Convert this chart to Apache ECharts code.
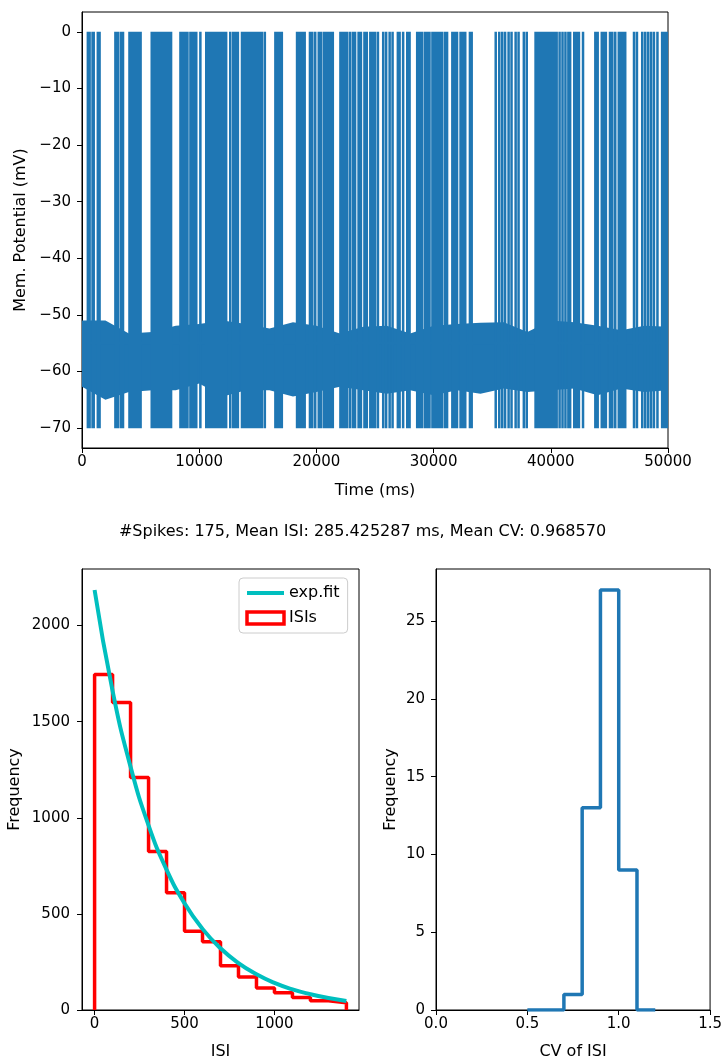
<!DOCTYPE html>
<html>
<head>
<meta charset="utf-8">
<script src="https://cdn.jsdelivr.net/npm/echarts@6/dist/echarts.min.js"></script>
<style>
  html, body { margin: 0; padding: 0; background: #fff; }
  #chart { width: 725px; height: 1061px; }
</style>
</head>
<body>
<div id="chart"></div>
<script>
// spike times (ms)
const spikeTimes = [
  500, 650, 900, 1000, 1350, 1500, 2850, 2950, 3100, 3350, 3500, 4050, 4200, 4400, 4550, 4700,
  4900, 5000, 5950, 6100, 6250, 6400, 6550, 6650, 6800, 7000, 7100, 7300, 7500, 7600,
  8400, 8550, 8700, 8850, 9000, 9250, 9400, 9550, 9750, 10100, 10600, 10750, 10900,
  11100, 11300, 11450, 11600, 11800, 12000, 12150, 12300, 12650, 12900, 13100, 13300,
  13650, 13800, 13950, 14100, 14300, 14450, 14600, 14800, 15000, 15150, 15350, 15600,
  16500, 16700, 16900, 17050, 18350, 18500, 18650, 18800, 19000, 19450, 19650, 19900,
  20200, 20400, 20650, 20800, 21000, 21200, 21400, 22050, 22200, 22400, 22600, 22850,
  23100, 23300, 23600, 23800, 24100, 24300, 24600, 24800, 25000, 25250,
  25700, 25950, 26250, 26500, 26950, 27100, 27400, 27750, 27950,
  28600, 28800, 29000, 29250, 29450, 29650, 29900, 30100, 30300, 30500, 30700, 30950, 31150,
  31600, 31800, 32000, 32300, 32500, 32700, 33100, 33250,
  35300, 35600, 35850, 36100, 36400, 36650, 37000, 37250, 37700, 37950,
  38700, 38900, 39100, 39300, 39500, 39700, 39900, 40100, 40300, 40500, 40750, 41000, 41250, 41500, 41650,
  42000, 42200, 42400, 42750, 43800, 44000, 44350, 44500, 44700, 45050, 45250, 45500, 45800,
  45950, 46150, 46350, 47100, 47350, 47800, 48050, 48300, 48550, 48800, 49100, 49500, 49700, 49900
];
const spikePeak = 0;
const spikeReset = -70;
const spikeThreshold = -55;

// subthreshold noise band (mV), upper and lower envelope every 2000 ms
const bandTimes = [0, 2000, 4000, 6000, 8000, 10000, 12000, 14000, 16000, 18000, 20000, 22000, 24000,
  26000, 28000, 30000, 32000, 34000, 36000, 38000, 40000, 42000, 44000, 46000, 48000, 50000];
const bandUpper = [-51.0, -51.0, -53.3, -53.0, -51.9, -51.6, -51.0, -51.6, -52.4, -51.3, -51.9, -53.3, -52.1,
  -51.9, -53.3, -51.9, -51.6, -51.4, -51.3, -53.0, -51.0, -51.3, -51.9, -52.7, -51.9, -52.1];
const bandLower = [-62.7, -65.0, -63.6, -63.3, -63.3, -62.1, -64.4, -63.3, -63.3, -64.4, -63.6, -62.7, -63.3,
  -63.9, -63.3, -64.2, -63.3, -63.9, -63.0, -63.6, -63.3, -63.0, -64.2, -63.0, -63.6, -63.3];

// ISI histogram
const isiEdges = [0, 100, 200, 300, 400, 500, 600, 700, 800, 900, 1000, 1100, 1200, 1300, 1400];
const isiCounts = [1745, 1600, 1210, 825, 610, 410, 355, 230, 172, 115, 90, 65, 48, 38];
const fitX = [0, 100, 200, 300, 400, 500, 600, 700, 800, 900, 1000, 1100, 1200, 1300, 1400];
const fitY = [2185, 1660, 1265, 960, 730, 555, 422, 321, 244, 186, 141, 107, 82, 62, 47];

// CV histogram
const cvEdges = [0.5, 0.6, 0.7, 0.8, 0.9, 1.0, 1.1, 1.2];
const cvCounts = [0, 0, 1, 13, 27, 9, 0];

// tick labels
const timeTicks = [0, 10000, 20000, 30000, 40000, 50000];
const voltTicks = [-70, -60, -50, -40, -30, -20, -10, 0];
const isiTicks = [0, 500, 1000];
const isiFreqTicks = [0, 500, 1000, 1500, 2000];
const cvTicks = [0, 0.5, 1.0, 1.5];
const cvFreqTicks = [0, 5, 10, 15, 20, 25];

const titleText = '#Spikes: 175, Mean ISI: 285.425287 ms, Mean CV: 0.968570';

const FONT = 'DejaVu Sans';
const INK = '#000';
const BLUE = '#1f77b4';

function stepPoints(edges, counts) {
  const pts = [[edges[0], 0]];
  counts.forEach((c, i) => {
    pts.push([edges[i], c], [edges[i + 1], c]);
  });
  pts.push([edges[edges.length - 1], 0]);
  return pts;
}

function spikePoints() {
  const pts = [];
  spikeTimes.forEach((t) => {
    pts.push([t, spikeThreshold], [t, spikePeak], [t, spikeReset], [t, spikeThreshold]);
  });
  return pts;
}

const minus = (v) => String(v).replace('-', '\u2212');

function axis(gridIndex, opts) {
  return {
    gridIndex,
    type: 'value',
    min: opts.min,
    max: opts.max,
    name: opts.name,
    nameLocation: 'middle',
    nameGap: opts.nameGap,
    nameTextStyle: { fontFamily: FONT, fontSize: 16, color: INK },
    axisLine: { show: true, onZero: false, lineStyle: { color: INK, width: 1 } },
    axisTick: { show: true, length: 5, customValues: opts.ticks, lineStyle: { color: INK, width: 1 } },
    axisLabel: {
      customValues: opts.ticks,
      margin: opts.margin,
      fontFamily: FONT,
      fontSize: 15,
      color: INK,
      formatter: opts.formatter || ((v) => minus(v))
    },
    splitLine: { show: false }
  };
}

const chart = echarts.init(document.getElementById('chart'));

chart.setOption({
  animation: false,
  backgroundColor: '#fff',
  title: {
    text: titleText,
    left: 'center',
    top: 519,
    textStyle: { fontFamily: FONT, fontSize: 16, fontWeight: 'normal', color: INK }
  },
  legend: {
    orient: 'vertical',
    left: 239,
    top: 578,
    padding: [7, 8, 7, 6],
    itemGap: 9,
    itemWidth: 37,
    itemHeight: 12,
    backgroundColor: '#fff',
    borderColor: '#cccccc',
    borderWidth: 1,
    borderRadius: 4,
    textStyle: { fontFamily: FONT, fontSize: 16, color: INK },
    data: [
      { name: 'exp.fit', itemStyle: { opacity: 0 }, lineStyle: { width: 4, color: '#00bfbf' } },
      { name: 'ISIs', icon: 'rect', itemStyle: { color: '#fff', borderColor: '#ff0000', borderWidth: 3.5 } }
    ]
  },
  grid: [
    { left: 82, top: 12, width: 586, height: 436, show: true, borderColor: INK, borderWidth: 1 },
    { left: 82, top: 569, width: 277, height: 443, show: true, borderColor: INK, borderWidth: 1 },
    { left: 436, top: 569, width: 277, height: 443, show: true, borderColor: INK, borderWidth: 1 }
  ],
  xAxis: [
    axis(0, { min: 0, max: 50000, ticks: timeTicks, name: 'Time (ms)', nameGap: 35, margin: 7 }),
    axis(1, { min: -70, max: 1470, ticks: isiTicks, name: 'ISI', nameGap: 34, margin: 7 }),
    axis(2, { min: 0, max: 1.5, ticks: cvTicks, name: 'CV of ISI', nameGap: 34, margin: 7,
      formatter: (v) => v.toFixed(1) })
  ],
  yAxis: [
    axis(0, { min: -73.5, max: 3.5, ticks: voltTicks, name: 'Mem. Potential (mV)', nameGap: 53, margin: 11 }),
    axis(1, { min: 0, max: 2294, ticks: isiFreqTicks, name: 'Frequency', nameGap: 59, margin: 12 }),
    axis(2, { min: 0, max: 28.35, ticks: cvFreqTicks, name: 'Frequency', nameGap: 37, margin: 11 })
  ],
  series: [
    {
      type: 'custom',
      xAxisIndex: 0,
      yAxisIndex: 0,
      data: [[0, -57]],
      clip: true,
      renderItem: (params, api) => {
        const pts = bandTimes.map((t, i) => api.coord([t, bandUpper[i]]));
        for (let i = bandTimes.length - 1; i >= 0; i--) {
          pts.push(api.coord([bandTimes[i], bandLower[i]]));
        }
        return { type: 'polygon', shape: { points: pts }, style: { fill: BLUE } };
      }
    },
    {
      type: 'line',
      xAxisIndex: 0,
      yAxisIndex: 0,
      data: spikePoints(),
      symbol: 'none',
      lineStyle: { color: BLUE, width: 2.5 },
      z: 3
    },
    {
      name: 'ISIs',
      type: 'line',
      xAxisIndex: 1,
      yAxisIndex: 1,
      data: stepPoints(isiEdges, isiCounts),
      symbol: 'none',
      lineStyle: { color: '#ff0000', width: 3.5 },
      itemStyle: { color: '#ff0000' }
    },
    {
      name: 'exp.fit',
      type: 'line',
      xAxisIndex: 1,
      yAxisIndex: 1,
      data: fitX.map((x, i) => [x, fitY[i]]),
      smooth: true,
      symbol: 'none',
      lineStyle: { color: '#00bfbf', width: 4 },
      itemStyle: { color: '#00bfbf' }
    },
    {
      type: 'line',
      xAxisIndex: 2,
      yAxisIndex: 2,
      data: stepPoints(cvEdges, cvCounts),
      symbol: 'none',
      lineStyle: { color: BLUE, width: 3.5 }
    }
  ]
});
</script>
</body>
</html>
